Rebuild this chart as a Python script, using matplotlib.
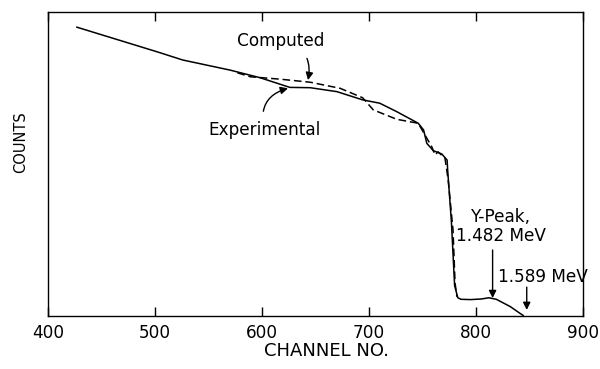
import numpy as np
import matplotlib
matplotlib.use('Agg')
import matplotlib.pyplot as plt

plt.rcParams['font.family'] = ['DejaVu Sans']

# experimental spectrum (solid)
exp_ch = [427, 502, 526, 570, 598, 626, 645, 670, 694, 710, 726, 746, 751, 754,
          760, 768, 773, 773.5, 777, 780, 783, 786, 795, 805, 812, 819, 832, 841, 844]
exp_y = [95.0, 86.9, 84.2, 80.9, 78.4, 75.2, 75.1, 73.8, 71.1, 70.0, 67.2, 63.4, 61.2, 56.8,
         54.4, 53.3, 51.3, 48.0, 31.0, 10.0, 6.0, 5.5, 5.4, 5.6, 6.0, 5.5, 3.1, 0.9, 0.2]

# computed spectrum (dashed)
comp_ch = [577, 589, 617, 645, 673, 694, 704, 726, 746, 754, 758.6, 761.7, 764.5,
           771, 774, 778.5, 780.4, 782.2]
comp_y = [80.0, 78.7, 77.9, 76.9, 74.9, 71.8, 67.8, 64.7, 63.4, 58.5, 55.7, 53.0, 54.0,
          51.9, 44.7, 28.3, 10.9, 6.3]

xticks = [400, 500, 600, 700, 800, 900]

fs = 12.2

fig = plt.figure(figsize=(6, 3.69), dpi=100)
ax = fig.add_axes([0.08, 0.1436, 0.8917, 0.8239])

ax.plot(exp_ch, exp_y, color='k', lw=1.1)
ax.plot(comp_ch, comp_y, color='k', lw=1.1, dashes=(5, 2.5))

ax.set_xlim(400, 900)
ax.set_ylim(0, 100)
ax.set_xticks(xticks)
ax.set_yticks([])
ax.tick_params(axis='x', direction='in', length=6.5, width=1, top=True,
               labelsize=fs, pad=6)
for s in ax.spines.values():
    s.set_linewidth(1)

ax.set_xlabel('CHANNEL NO.', fontsize=13)
ax.xaxis.set_label_coords(0.521, -0.085)
ax.xaxis.label.set_va('top')
ax.set_ylabel('COUNTS', fontsize=10.5)
ax.yaxis.set_label_coords(-0.037, 0.573)

# annotations
ax.annotate('Computed', xy=(643, 77.6), xytext=(617.8, 90.6), fontsize=fs,
            ha='center', va='center',
            arrowprops=dict(arrowstyle='-|>', color='k', lw=1, mutation_scale=11,
                            connectionstyle='arc3,rad=-0.5', shrinkA=5, shrinkB=0))
ax.annotate('Experimental', xy=(624.3, 74.9), xytext=(602.8, 61.2), fontsize=fs,
            ha='center', va='center',
            arrowprops=dict(arrowstyle='-|>', color='k', lw=1, mutation_scale=11,
                            connectionstyle='arc3,rad=-0.5', shrinkA=5, shrinkB=0))

ax.text(823.5, 29.5, 'Y-Peak,\n1.482 MeV', fontsize=fs, ha='center', va='center',
        linespacing=1.1)
ax.annotate('', xy=(815.5, 5.9), xytext=(815.5, 21.7),
            arrowprops=dict(arrowstyle='-|>', color='k', lw=1, mutation_scale=11,
                            shrinkA=0, shrinkB=0))
ax.text(820.5, 12.8, '1.589 MeV', fontsize=fs, ha='left', va='center')
ax.annotate('', xy=(847.4, 2.0), xytext=(847.4, 9.5),
            arrowprops=dict(arrowstyle='-|>', color='k', lw=1, mutation_scale=11,
                            shrinkA=0, shrinkB=0))

fig.savefig('out.png', dpi=100)
